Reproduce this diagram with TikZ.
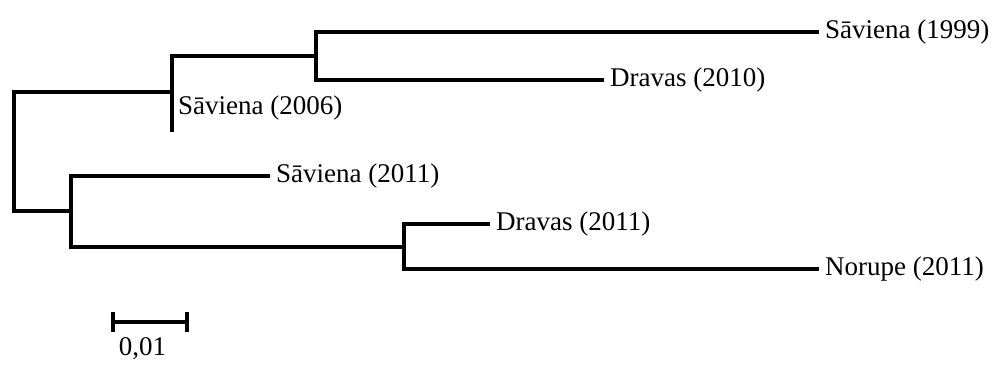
\documentclass[tikz,border=0pt]{standalone}
\usepackage{fontspec}
\setmainfont{Liberation Serif}
\usepackage{tikz}
\usetikzlibrary{calc,positioning}

\begin{document}
\begin{tikzpicture}[x=1pt,y=-1pt,
  branch/.style={line width=3.8pt,line join=miter,line cap=rect},
  leaf/.style={anchor=west,inner xsep=8pt,inner ysep=0pt,font=\fontsize{27}{30}\selectfont}]
\useasboundingbox (0,0) rectangle (997,376);
\coordinate (r) at (14,151);
\coordinate (c1) at (172,92);
\coordinate (c2) at (316,56);
\coordinate (c3) at (71,211);
\coordinate (c4) at (404,247);
\coordinate (t2006) at (172,130);
\node[leaf] (s1999) at (817,32) {Sāviena (1999)};
\node[leaf] (d2010) at (602,80) {Dravas (2010)};
\node[leaf,inner xsep=6pt] (s2006) at (172,108) {Sāviena (2006)};
\node[leaf] (s2011) at (268,176) {Sāviena (2011)};
\node[leaf] (d2011) at (488,224) {Dravas (2011)};
\node[leaf] (n2011) at (817,269) {Norupe (2011)};
\draw[branch] (c1) -| (r) |- (c3);
\draw[branch] (c2) -| (c1) -- (t2006);
\draw[branch] (s1999.west) -| (c2) |- (d2010.west);
\draw[branch] (s2011.west) -| (c3) |- (c4);
\draw[branch] (d2011.west) -| (c4) |- (n2011.west);
\coordinate (sb1) at (113,322);
\coordinate (sb2) at (187,322);
\draw[line width=3.2pt] (sb1) -- (sb2);
\draw[line width=3.2pt] ($(sb1)+(0,-10)$) -- ($(sb1)+(0,10)$);
\draw[line width=3.2pt] ($(sb2)+(0,-10)$) -- ($(sb2)+(0,10)$);
\node[font=\fontsize{27}{30}\selectfont,anchor=north] (sblabel) at ($(sb1)!0.4!(sb2)+(0,12)$) {0,01};
\end{tikzpicture}
\end{document}
